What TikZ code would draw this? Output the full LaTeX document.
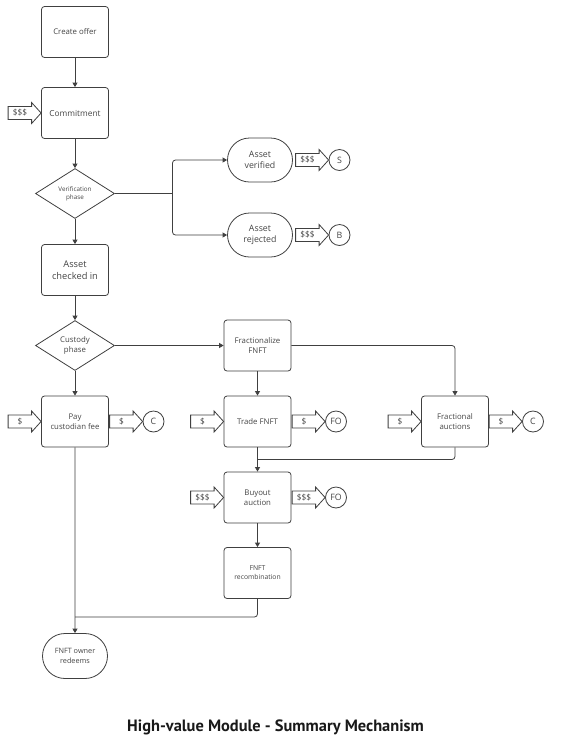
\documentclass[tikz,border=0pt]{standalone}
\usepackage{fontspec}
\setmainfont{Open Sans}
\newfontfamily\titlefont{PT Sans}
\usetikzlibrary{shapes.geometric,shapes.misc,arrows.meta}
\definecolor{linec}{HTML}{404040}
\definecolor{textc}{HTML}{454545}
\tikzset{
  base/.style={draw=linec, line width=0.8pt, text=textc, align=center, inner sep=1pt},
  stepbox/.style={base, rounded corners=3pt, minimum width=67pt, minimum height=51pt, font=\fontsize{7.8}{10}\selectfont},
  term/.style={base, rounded rectangle, minimum width=67pt, minimum height=44pt, font=\fontsize{8.8}{11.5}\selectfont},
  decide/.style={base, diamond, minimum width=79pt, minimum height=50pt, inner sep=0pt, font=\fontsize{7.8}{10}\selectfont},
  party/.style={base, circle, minimum size=21pt, inner sep=0pt, font=\fontsize{8.8}{10}\selectfont},
  conn/.style={draw=linec, line width=0.8pt, -{Triangle[width=5pt,length=4.5pt]}},
  plain/.style={draw=linec, line width=0.8pt},
  pics/barrow/.style={code={
    \draw[linec, line width=0.8pt, fill=white] (-33,-6.5)--(-9.5,-6.5)--(-9.5,-10.5)--(0,0)--(-9.5,10.5)--(-9.5,6.5)--(-33,6.5)--cycle;
    \node[text=textc, font=\fontsize{8.3}{9}\selectfont, inner sep=0pt] at (-21,0) {#1};
  }}
}
\begin{document}
\begin{tikzpicture}[x=1pt,y=-1pt]
\useasboundingbox (0,0) rectangle (562,748);
\fill[white] (0,0) rectangle (562,748);

% main column
\node[stepbox] (create) at (75,32) {Create offer};
\node[stepbox, font=\fontsize{8.3}{10}\selectfont] (commit) at (75,113) {Commitment};
\node[decide, font=\fontsize{6.3}{8.3}\selectfont] (verif) at (75,193.5) {Verification\\phase};
\node[stepbox, font=\fontsize{9.3}{12.5}\selectfont] (checked) at (75,270) {Asset\\checked in};
\node[decide] (custody) at (75,345.5) {Custody\\phase};
\node[stepbox] (pay) at (75,421.5) {Pay\\custodian fee};
\node[term, minimum height=45pt, font=\fontsize{7.3}{9.5}\selectfont] (redeem) at (75,656) {FNFT owner\\redeems};

% verification outcomes
\node[term] (averified) at (260,160) {Asset\\verified};
\node[term] (arejected) at (260,235) {Asset\\rejected};
\node[party] (S) at (339.5,160) {S};
\node[party] (B) at (339.5,235) {B};

% fractional branch
\node[stepbox] (frac) at (257.5,345.5) {Fractionalize\\FNFT};
\node[stepbox] (trade) at (257.5,421.5) {Trade FNFT};
\node[stepbox] (fauc) at (455,421.5) {Fractional\\auctions};
\node[stepbox] (buyout) at (257.5,497.5) {Buyout\\auction};
\node[stepbox, font=\fontsize{6.8}{9}\selectfont] (recomb) at (257.5,573) {FNFT\\recombination};

\node[party] (C1) at (153.5,421.5) {C};
\node[party] (FO1) at (336,421.5) {FO};
\node[party] (C2) at (533,421.5) {C};
\node[party] (FO2) at (336,497.5) {FO};

% block arrows (payments)
\pic at (commit.west) {barrow={\$\$\$}};
\pic at (S.west) {barrow={\$\$\$}};
\pic at (B.west) {barrow={\$\$\$}};
\pic at (pay.west) {barrow={\$}};
\pic at (C1.west) {barrow={\$}};
\pic at (trade.west) {barrow={\$}};
\pic at (FO1.west) {barrow={\$}};
\pic at (fauc.west) {barrow={\$}};
\pic at (C2.west) {barrow={\$}};
\pic at (buyout.west) {barrow={\$\$\$}};
\pic at (FO2.west) {barrow={\$\$\$}};

% connectors
\draw[conn] (create) -- (commit);
\draw[conn] (commit) -- (verif);
\draw[conn] (verif) -- (checked);
\draw[conn] (checked) -- (custody);
\draw[conn] (custody) -- (pay);
\draw[conn] (custody.east) -- (frac.west);
\draw[conn] (frac) -- (trade);

\coordinate (br) at (172.5,193.5);
\draw[plain] (verif.east) -- (br);
\draw[conn, rounded corners=3pt] (br) |- (averified.west);
\draw[conn, rounded corners=3pt] (br) |- (arejected.west);

\draw[conn, rounded corners=3pt] (frac.east) -| (fauc.north);

\coordinate (merge) at (257.5,459.5);
\draw[plain, rounded corners=3pt] (fauc.south) |- (merge);
\draw[conn] (trade) -- (buyout);
\draw[conn] (buyout) -- (recomb);

\coordinate (join) at (75,617);
\draw[plain, rounded corners=3pt] (recomb.south) |- (join);
\draw[conn] (pay) -- (redeem);

% title
\node[font=\titlefont\bfseries\fontsize{16.4}{18}\selectfont, text=black!90] (title) at (275.5,727) {High-value Module - Summary Mechanism};
\end{tikzpicture}
\end{document}
